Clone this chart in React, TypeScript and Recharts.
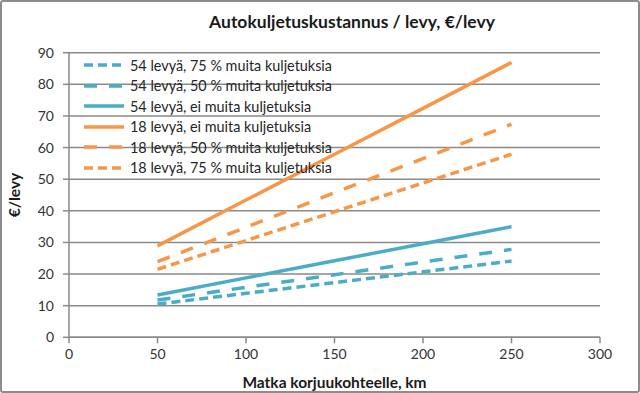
import React from 'react';
import { LineChart, Line, XAxis, YAxis, CartesianGrid, Label } from 'recharts';

// distance to site, km
const distances = [50, 100, 150, 200, 250];

// €/levy
const t54_75 = [10.5, 13.9, 17.3, 20.7, 24.1];
const t54_50 = [11.8, 15.8, 19.8, 23.8, 27.8];
const t54_ei = [13.4, 18.8, 24.2, 29.6, 35.0];
const t18_ei = [28.9, 43.4, 57.9, 72.4, 86.9];
const t18_50 = [23.9, 34.8, 45.7, 56.5, 67.4];
const t18_75 = [21.5, 30.6, 39.7, 48.8, 57.9];

const xTicks = [0, 50, 100, 150, 200, 250, 300];
const yTicks = [0, 10, 20, 30, 40, 50, 60, 70, 80, 90];

const BLUE = '#4bacc6';
const ORANGE = '#f79646';
const SHORT_DASH = '9 5';
const LONG_DASH = '13 12';

const SERIES = [
  { key: 's54_75', name: '54 levyä, 75 % muita kuljetuksia', color: BLUE, dash: SHORT_DASH, values: t54_75 },
  { key: 's54_50', name: '54 levyä, 50 % muita kuljetuksia', color: BLUE, dash: LONG_DASH, values: t54_50 },
  { key: 's54_ei', name: '54 levyä, ei muita kuljetuksia', color: BLUE, dash: undefined, values: t54_ei },
  { key: 's18_ei', name: '18 levyä, ei muita kuljetuksia', color: ORANGE, dash: undefined, values: t18_ei },
  { key: 's18_50', name: '18 levyä, 50 % muita kuljetuksia', color: ORANGE, dash: LONG_DASH, values: t18_50 },
  { key: 's18_75', name: '18 levyä, 75 % muita kuljetuksia', color: ORANGE, dash: SHORT_DASH, values: t18_75 },
];

const data = distances.map((km, i) => {
  const row: Record<string, number> = { km };
  SERIES.forEach((s) => { row[s.key] = s.values[i]; });
  return row;
});

const FONT = 'Lato, "Open Sans", sans-serif';
const GRID = '#8a8a8a';

// legend sits inside the plot, drawn over the grid with no background
const ChartLegend = () => (
  <div style={{
    position: 'absolute', left: 83, top: 55, zIndex: 1,
    fontFamily: FONT, fontSize: 14.4, color: '#262626',
  }}>
    {SERIES.map((s) => (
      <div key={s.key} style={{ display: 'flex', alignItems: 'center', height: 20.5 }}>
        <svg width={42} height={8} style={{ marginRight: 5 }}>
          <line x1={1} y1={4} x2={41} y2={4} stroke={s.color} strokeWidth={3.5}
            strokeDasharray={s.dash} />
        </svg>
        <span>{s.name}</span>
      </div>
    ))}
  </div>
);

export default function App() {
  return (
    <div style={{ position: 'absolute', left: 0, top: 0, width: 640, height: 393, background: '#fff' }}>
      <div style={{
        position: 'absolute', left: 0, top: 0, width: 640, height: 393, boxSizing: 'border-box',
        border: '2px solid #8c8c8c', borderRadius: 3, pointerEvents: 'none', zIndex: 2,
      }} />
      <div style={{
        position: 'absolute', left: 0, width: 640, top: 11, paddingLeft: 64, boxSizing: 'border-box',
        textAlign: 'center', fontFamily: FONT, fontWeight: 700, fontSize: 17.5, color: '#1a1a1a',
      }}>
        Autokuljetuskustannus / levy, €/levy
      </div>
      <ChartLegend />
      <LineChart width={640} height={393} data={data}
        margin={{ top: 52.7, right: 40, bottom: 0, left: 0 }}>
        <CartesianGrid horizontal vertical={false} stroke={GRID} strokeWidth={1.5} />
        <XAxis dataKey="km" type="number" domain={[0, 300]} ticks={xTicks} interval={0}
          stroke={GRID} strokeWidth={1.5} tickSize={6} tickMargin={6} height={55.7}
          tick={{ fill: '#333', fontSize: 14, fontFamily: FONT }}>
          <Label value="Matka korjuukohteelle, km" position="insideBottom" offset={5}
            style={{ fill: '#1a1a1a', fontSize: 15.5, fontWeight: 700, fontFamily: FONT }} />
        </XAxis>
        <YAxis type="number" domain={[0, 90]} ticks={yTicks} interval={0} width={69}
          stroke={GRID} strokeWidth={1.5} tickSize={6} tickMargin={9}
          tick={{ fill: '#333', fontSize: 14, fontFamily: FONT }}>
          <Label value="€/levy" angle={-90} position="insideLeft" offset={14}
            style={{ fill: '#1a1a1a', fontSize: 15.5, fontWeight: 700, fontFamily: FONT, textAnchor: 'middle' }} />
        </YAxis>
        {SERIES.map((s) => (
          <Line key={s.key} dataKey={s.key} name={s.name} stroke={s.color} strokeWidth={3.5}
            strokeDasharray={s.dash} dot={false} activeDot={false} isAnimationActive={false} />
        ))}
      </LineChart>
    </div>
  );
}
